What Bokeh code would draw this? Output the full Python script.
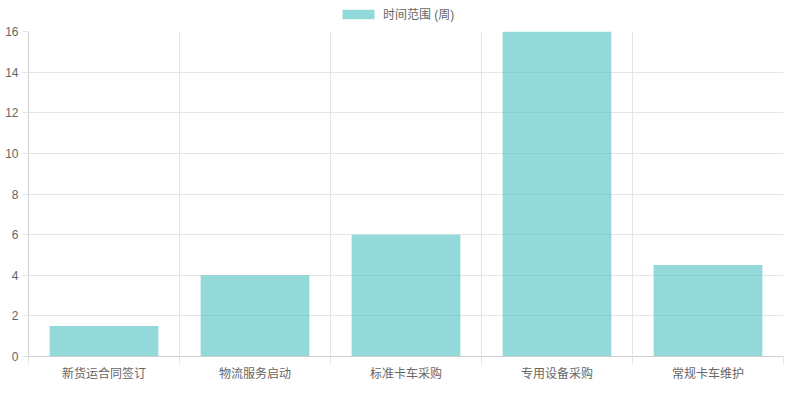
from bokeh.plotting import figure
from bokeh.models import FixedTicker, Legend, LegendItem, Range1d, Grid
from bokeh.layouts import column
from bokeh.embed import file_html
from bokeh.resources import INLINE

categories = ["新货运合同签订", "物流服务启动", "标准卡车采购", "专用设备采购", "常规卡车维护"]
weeks = [1.5, 4, 6, 16, 4.5]
series_name = "时间范围 (周)"
y_ticks = [0, 2, 4, 6, 8, 10, 12, 14, 16]

FONT = "'Liberation Sans', 'Noto Sans CJK SC', sans-serif"
TEXT = "#666666"
GRID = "#e5e5e5"
BAR_COLOR = "#4bc0c0"
BAR_ALPHA = 0.6

W = 784
LEG_H = 26
H = 384 - LEG_H
TOP, BOTTOM, LEFT, RIGHT = 5, 28, 28, 1

centers = [i + 0.5 for i in range(len(categories))]
bounds = list(range(len(categories) + 1))

# ---- legend strip (separate small figure above the chart) ----
lf = figure(width=W, height=LEG_H, output_backend="svg", toolbar_location=None,
            x_range=Range1d(100, 101), y_range=Range1d(100, 101))
lf.min_border = 0
lf.xaxis.visible = False
lf.yaxis.visible = False
lf.xgrid.visible = False
lf.ygrid.visible = False
lf.outline_line_color = None
# same series, drawn out of view: only its legend swatch shows
lr = lf.vbar(x=centers, top=weeks, width=0.72, fill_color=BAR_COLOR,
             fill_alpha=BAR_ALPHA, line_color=None)
legend = Legend(items=[LegendItem(label=series_name, renderers=[lr])],
                orientation="horizontal", location=(310, LEG_H - 22),
                border_line_color=None, background_fill_alpha=0,
                glyph_width=40, glyph_height=12, label_height=12,
                padding=0, margin=0, spacing=0,
                label_text_font=FONT, label_text_font_size="12px",
                label_text_color=TEXT, label_standoff=5)
lf.add_layout(legend)

# ---- main chart ----
p = figure(width=W, height=H, output_backend="svg", toolbar_location=None,
           x_range=Range1d(0, len(categories)), y_range=Range1d(0, 16))
p.min_border_left = LEFT
p.min_border_right = RIGHT
p.min_border_top = TOP
p.min_border_bottom = BOTTOM
p.outline_line_color = None
p.background_fill_color = "white"
p.border_fill_color = "white"

p.vbar(x=centers, top=weeks, width=0.72, bottom=0,
       fill_color=BAR_COLOR, fill_alpha=BAR_ALPHA, line_color=None)

xa = p.xaxis[0]
xa.ticker = FixedTicker(ticks=centers, minor_ticks=bounds)
xa.major_label_overrides = {c: lab for c, lab in zip(centers, categories)}
xa.major_tick_out = 0
xa.major_tick_in = 0
xa.minor_tick_out = 8
xa.minor_tick_in = 0
xa.minor_tick_line_color = GRID
xa.axis_line_color = "#cfcfcf"
xa.major_label_text_font = FONT
xa.major_label_text_font_size = "12px"
xa.major_label_text_color = TEXT
xa.major_label_standoff = 2

ya = p.yaxis[0]
ya.ticker = FixedTicker(ticks=y_ticks)
ya.minor_tick_line_color = None
ya.major_tick_out = 6
ya.major_tick_in = 0
ya.major_tick_line_color = GRID
ya.axis_line_color = "#cfcfcf"
ya.major_label_text_font = FONT
ya.major_label_text_font_size = "12px"
ya.major_label_text_color = TEXT
ya.major_label_standoff = 4

p.xgrid.visible = False
p.ygrid.grid_line_color = GRID
p.ygrid.ticker = FixedTicker(ticks=y_ticks)
vgrid = Grid(dimension=0, ticker=FixedTicker(ticks=bounds[1:]), grid_line_color=GRID)
p.add_layout(vgrid)

layout = column(lf, p, spacing=0)
open("out.html", "w").write(file_html(layout, INLINE))
